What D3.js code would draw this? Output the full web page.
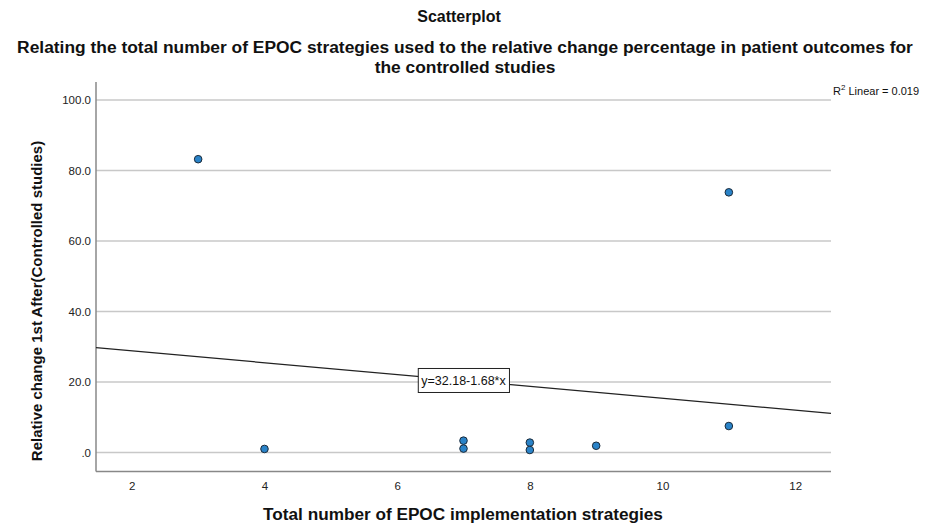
<!DOCTYPE html>
<html>
<head>
<meta charset="utf-8">
<script src="https://cdn.jsdelivr.net/npm/d3@7"></script>
<style>
  body { margin: 0; background: #fff; }
  text { font-family: "Liberation Sans", Arial, sans-serif; }
</style>
</head>
<body>
<svg id="chart" width="931" height="530"></svg>
<script>
// Total EPOC strategies per controlled study and relative change (%)
const strategies = [3, 4, 7, 7, 8, 8, 9, 11, 11];
const relChange = [83.2, 1.0, 3.35, 1.1, 2.8, 0.7, 1.9, 73.8, 7.5];
const xTicks = [2, 4, 6, 8, 10, 12];
const yTicks = [0, 20, 40, 60, 80, 100];
const fitIntercept = 32.18;
const fitSlope = -1.68;
const rSquared = 0.019;

const svg = d3.select("#chart");
const plotLeft = 96, plotRight = 831, plotTop = 82, plotBottom = 471.5;

const x = d3.scaleLinear().domain([1.46, 12.54]).range([plotLeft, plotRight]);
const y = d3.scaleLinear().domain([-5.4, 105.1]).range([plotBottom, plotTop]);

// Titles
svg.append("text").attr("x", 459).attr("y", 22).attr("text-anchor", "middle")
  .attr("font-size", 16).attr("font-weight", "bold").attr("fill", "#111").text("Scatterplot");
svg.append("text").attr("x", 465).attr("y", 53).attr("text-anchor", "middle")
  .attr("font-size", 17.4).attr("font-weight", "bold").attr("fill", "#111")
  .text("Relating the total number of EPOC strategies used to the relative change percentage in patient outcomes for");
svg.append("text").attr("x", 465).attr("y", 72.5).attr("text-anchor", "middle")
  .attr("font-size", 17.4).attr("font-weight", "bold").attr("fill", "#111").text("the controlled studies");

// Horizontal gridlines
svg.append("g").selectAll("line").data(yTicks).join("line")
  .attr("x1", plotLeft).attr("x2", plotRight)
  .attr("y1", d => y(d)).attr("y2", d => y(d))
  .attr("stroke", "#c8c8c8").attr("stroke-width", 1.5);

// Axes (labels only, no tick marks)
const yAxis = svg.append("g").attr("transform", `translate(${plotLeft},0)`)
  .call(d3.axisLeft(y).tickValues(yTicks).tickSize(0).tickPadding(5)
    .tickFormat(d => d === 0 ? ".0" : d3.format(".1f")(d)));
yAxis.select(".domain").remove();
yAxis.selectAll("text").attr("font-size", 11.5).attr("fill", "#222")
  .style("font-family", "Liberation Sans, Arial, sans-serif");

const xAxis = svg.append("g").attr("transform", `translate(0,${plotBottom})`)
  .call(d3.axisBottom(x).tickValues(xTicks).tickSize(0).tickPadding(10)
    .tickFormat(d3.format("d")));
xAxis.select(".domain").remove();
xAxis.selectAll("text").attr("font-size", 11.5).attr("fill", "#222")
  .style("font-family", "Liberation Sans, Arial, sans-serif");

// Plot frame: left and bottom lines
svg.append("line").attr("x1", plotLeft).attr("x2", plotLeft).attr("y1", plotTop).attr("y2", plotBottom)
  .attr("stroke", "#888").attr("stroke-width", 1.5);
svg.append("line").attr("x1", plotLeft).attr("x2", plotRight).attr("y1", plotBottom).attr("y2", plotBottom)
  .attr("stroke", "#888").attr("stroke-width", 1.5);

// Fit line
const [x0, x1] = x.domain();
svg.append("line")
  .attr("x1", x(x0)).attr("y1", y(fitIntercept + fitSlope * x0))
  .attr("x2", x(x1)).attr("y2", y(fitIntercept + fitSlope * x1))
  .attr("stroke", "#222").attr("stroke-width", 1.2);

// Equation label on the line at the middle of the x range
const xm = (x0 + x1) / 2;
const eqText = `y=${fitIntercept.toFixed(2)}${fitSlope < 0 ? "-" : "+"}${Math.abs(fitSlope).toFixed(2)}*x`;
const eq = svg.append("g").attr("transform", `translate(${x(xm)},${y(fitIntercept + fitSlope * xm)})`);
const eqLabel = eq.append("text").attr("text-anchor", "middle").attr("dy", "0.35em")
  .attr("font-size", 12.5).attr("fill", "#111").text(eqText);
const bb = eqLabel.node().getBBox();
eq.insert("rect", "text").attr("x", bb.x - 3).attr("y", -12).attr("width", bb.width + 6).attr("height", 24)
  .attr("fill", "#fff").attr("stroke", "#222").attr("stroke-width", 1);

// Points
svg.append("g").selectAll("circle").data(strategies.map((s, i) => [s, relChange[i]])).join("circle")
  .attr("cx", d => x(d[0])).attr("cy", d => y(d[1])).attr("r", 3.8)
  .attr("fill", "#2a83c8").attr("stroke", "#1a2a3a").attr("stroke-width", 1);

// R-squared note
const r2 = svg.append("text").attr("x", 833).attr("y", 95).attr("font-size", 11).attr("fill", "#111");
r2.append("tspan").text("R");
r2.append("tspan").attr("dy", -5).attr("font-size", 8).text("2");
r2.append("tspan").attr("dy", 5).text(` Linear = ${rSquared.toFixed(3)}`);

// Axis titles
svg.append("text").attr("x", 463).attr("y", 520).attr("text-anchor", "middle")
  .attr("font-size", 17.2).attr("font-weight", "bold").attr("fill", "#111")
  .text("Total number of EPOC implementation strategies");
svg.append("text").attr("transform", "translate(42,301) rotate(-90)").attr("text-anchor", "middle")
  .attr("font-size", 15).attr("font-weight", "bold").attr("fill", "#111")
  .text("Relative change 1st After(Controlled studies)");
</script>
</body>
</html>
